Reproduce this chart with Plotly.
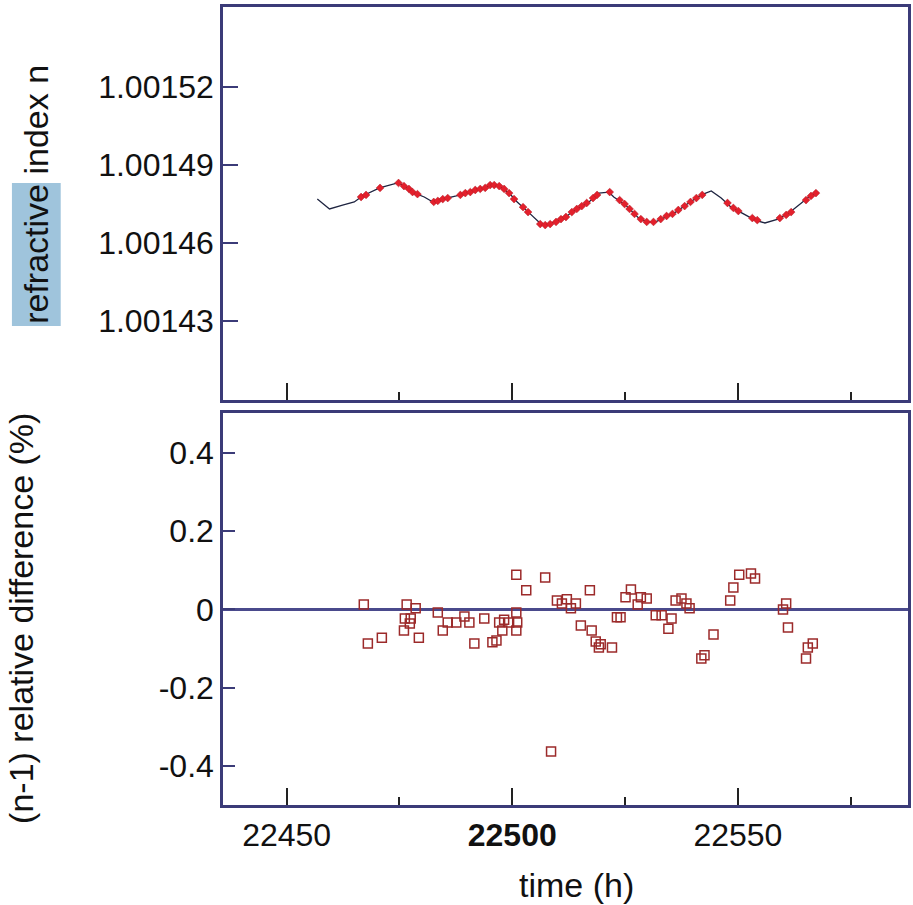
import plotly.graph_objects as go
from plotly.subplots import make_subplots

# ---- refractive index trace (continuous record) ----
line_t = [22456.8, 22459.5, 22462.4, 22465.0, 22466.8, 22470.6, 22474.6, 22475.7,
          22477.8, 22479.4, 22480.5, 22482.8, 22484.6, 22487.6, 22489.9, 22492.1,
          22493.8, 22495.4, 22497.1, 22499.3, 22501.1, 22503.8, 22506.6, 22508.8,
          22511.9, 22513.2, 22517.0, 22519.2, 22521.4, 22522.5, 22525.1, 22528.0,
          22529.8, 22531.8, 22534.0, 22536.2, 22539.1, 22541.9, 22544.1, 22546.3,
          22548.5, 22550.8, 22553.8, 22556.0, 22558.9, 22561.6, 22566.0, 22567.1]
line_n = [1.0014769, 1.0014731, 1.0014746, 1.0014758, 1.0014781, 1.0014812, 1.0014831, 1.0014823,
          1.0014796, 1.0014785, 1.0014777, 1.0014754, 1.0014769, 1.0014781, 1.0014792, 1.0014808,
          1.0014812, 1.0014823, 1.0014819, 1.0014792, 1.0014758, 1.0014715, 1.0014669, 1.0014677,
          1.0014700, 1.0014719, 1.0014758, 1.0014792, 1.0014796, 1.0014777, 1.0014746, 1.0014696,
          1.0014681, 1.0014681, 1.0014700, 1.0014719, 1.0014754, 1.0014785, 1.0014800, 1.0014773,
          1.0014738, 1.0014715, 1.0014688, 1.0014677, 1.0014692, 1.0014719, 1.0014781, 1.0014792]

# ---- interferometer measurements on the record ----
meas_t = [22466.5, 22467.6, 22470.7, 22474.8, 22476.0, 22477.1, 22477.9, 22479.0,
          22482.6, 22483.5, 22484.6, 22485.7, 22488.5, 22489.6, 22490.7, 22491.8,
          22492.9, 22494.0, 22495.1, 22496.0, 22497.1, 22498.2, 22499.3, 22500.4,
          22502.4, 22503.5, 22506.2, 22507.3, 22508.4, 22509.7, 22510.8, 22511.9,
          22513.2, 22514.3, 22515.4, 22516.5, 22517.9, 22518.8, 22521.6, 22523.8,
          22524.9, 22526.0, 22527.1, 22528.5, 22529.8, 22531.3, 22532.9, 22534.2,
          22535.5, 22536.8, 22538.2, 22539.5, 22540.8, 22542.1, 22547.7, 22549.0,
          22550.1, 22553.2, 22554.3, 22559.3, 22560.7, 22561.8, 22565.1, 22566.2,
          22567.3]
meas_n = [1.0014777, 1.0014785, 1.0014812, 1.0014831, 1.0014819, 1.0014808, 1.0014796, 1.0014788,
          1.0014758, 1.0014762, 1.0014769, 1.0014773, 1.0014785, 1.0014792, 1.0014796, 1.0014804,
          1.0014808, 1.0014812, 1.0014823, 1.0014823, 1.0014819, 1.0014808, 1.0014792, 1.0014769,
          1.0014738, 1.0014719, 1.0014673, 1.0014669, 1.0014673, 1.0014681, 1.0014692, 1.0014700,
          1.0014719, 1.0014731, 1.0014742, 1.0014754, 1.0014773, 1.0014785, 1.0014796, 1.0014765,
          1.0014750, 1.0014731, 1.0014712, 1.0014692, 1.0014681, 1.0014681, 1.0014692, 1.0014704,
          1.0014712, 1.0014727, 1.0014742, 1.0014758, 1.0014773, 1.0014785, 1.0014754, 1.0014735,
          1.0014723, 1.0014696, 1.0014688, 1.0014696, 1.0014708, 1.0014719, 1.0014765, 1.0014781,
          1.0014792]

# ---- relative difference of (n-1), percent ----
diff_t = [22467.1, 22468.0, 22471.1, 22476.6, 22478.6, 22476.2, 22477.5, 22477.3,
          22476.0, 22479.3, 22483.5, 22484.6, 22485.7, 22487.6, 22489.4, 22490.5,
          22491.6, 22493.8, 22495.6, 22496.5, 22497.1, 22498.2, 22497.8, 22499.3,
          22500.9, 22500.9, 22501.1, 22500.9, 22503.1, 22507.3, 22508.6, 22509.9,
          22511.0, 22512.1, 22513.0, 22514.1, 22515.2, 22517.2, 22517.6, 22518.5,
          22519.2, 22519.6, 22522.1, 22523.2, 22524.0, 22525.1, 22526.3, 22527.8,
          22528.5, 22529.8, 22531.8, 22533.1, 22534.6, 22535.3, 22536.2, 22537.5,
          22538.6, 22539.3, 22541.9, 22542.6, 22544.6, 22548.3, 22549.0, 22550.3,
          22552.9, 22553.8, 22560.0, 22560.7, 22561.1, 22565.1, 22565.5, 22566.6]
diff_v = [0.013, -0.087, -0.072, 0.013, 0.003, -0.023, -0.023, -0.036,
          -0.054, -0.072, -0.008, -0.054, -0.033, -0.033, -0.018, -0.033,
          -0.087, -0.023, -0.084, -0.079, -0.033, -0.026, -0.054, -0.033,
          -0.008, -0.054, -0.033, 0.089, 0.049, 0.082, -0.363, 0.023,
          0.015, 0.026, 0.003, 0.015, -0.041, 0.049, -0.054, -0.082,
          -0.097, -0.089, -0.097, -0.020, -0.020, 0.031, 0.051, 0.013,
          0.031, 0.028, -0.015, -0.015, -0.049, -0.023, 0.023, 0.028,
          0.015, 0.003, -0.125, -0.117, -0.064, 0.023, 0.056, 0.089,
          0.092, 0.079, 0.000, 0.015, -0.046, -0.125, -0.097, -0.087]

n_ticks = [1.00143, 1.00146, 1.00149, 1.00152]
n_ticktext = ["1.00143", "1.00146", "1.00149", "1.00152"]
d_ticks = [-0.4, -0.2, 0.0, 0.2, 0.4]
d_ticktext = ["-0.4", "-0.2", "0", "0.2", "0.4"]
t_ticks = [22450, 22500, 22550]
t_ticktext = ["22450", "<b>22500</b>", "22550"]

FRAME = "#3b3b78"
FONT = "Liberation Sans, Arial, sans-serif"
W, H = 913, 905
ML, MR, MT, MB = 223, 2, 7, 100
PW, PH = W - ML - MR, H - MT - MB

def px_x(px):
    return (px - ML) / PW

def px_y(py):
    return (H - MB - py) / PH

fig = make_subplots(rows=2, cols=1, shared_xaxes=False, vertical_spacing=0.0)

fig.add_trace(go.Scatter(x=line_t, y=line_n, mode="lines",
                         line=dict(color="#1e2440", width=1.3),
                         showlegend=False), row=1, col=1)
fig.add_trace(go.Scatter(x=meas_t, y=meas_n, mode="markers",
                         marker=dict(symbol="diamond", size=6, color="#e3202c",
                                     line=dict(color="#b01822", width=0.5)),
                         showlegend=False), row=1, col=1)
fig.add_trace(go.Scatter(x=diff_t, y=diff_v, mode="markers",
                         marker=dict(symbol="square-open", size=9, color="#9c2a2a",
                                     line=dict(width=1.5)),
                         showlegend=False), row=2, col=1)

x_range = [22435.9, 22587.7]
common_x = dict(range=x_range, showline=True, linecolor=FRAME, linewidth=2.5, mirror=True,
                ticks="inside", ticklen=17, tickwidth=1.5, tickcolor="#222",
                tickvals=t_ticks, showgrid=False, zeroline=False,
                minor=dict(tickvals=[22475, 22525, 22575], ticks="inside", ticklen=8,
                           tickwidth=1.5, tickcolor="#222", showgrid=False))

fig.update_layout(
    width=W, height=H,
    margin=dict(l=ML, r=MR, t=MT, b=MB),
    paper_bgcolor="white", plot_bgcolor="white",
    font=dict(family=FONT, size=32, color="#111"),
    xaxis=dict(domain=[0, 1], showticklabels=False, **common_x),
    xaxis2=dict(domain=[0, 1], showticklabels=True, ticktext=t_ticktext,
                tickfont=dict(size=32), **common_x),
    yaxis=dict(domain=[px_y(400), 1], range=[1.0013996, 1.0015508],
               tickvals=n_ticks, ticktext=n_ticktext, ticks="inside", ticklen=15,
               tickwidth=1.5, tickcolor=FRAME, showline=True, linecolor=FRAME,
               linewidth=2.5, mirror=True, showgrid=False, zeroline=False,
               tickfont=dict(size=32)),
    yaxis2=dict(domain=[0, px_y(413)], range=[-0.4996, 0.502],
                tickvals=d_ticks, ticktext=d_ticktext, ticks="inside", ticklen=12,
                tickwidth=1.5, tickcolor=FRAME, showline=True, linecolor=FRAME,
                linewidth=2.5, mirror=True, showgrid=False,
                zeroline=True, zerolinecolor="#4a4a8c", zerolinewidth=3,
                tickfont=dict(size=32)),
)

# highlight behind the word "refractive"
fig.add_shape(type="rect", xref="paper", yref="paper",
              x0=px_x(11), x1=px_x(60), y0=px_y(326), y1=px_y(183),
              fillcolor="#9fc4dc", line=dict(width=0), layer="below")

fig.add_annotation(text="refractive index n", xref="paper", yref="paper",
                   x=px_x(35), y=px_y(194), textangle=-90, showarrow=False,
                   xanchor="center", yanchor="middle",
                   font=dict(family=FONT, size=34, color="#111"))
fig.add_annotation(text="(n-1) relative difference (%)", xref="paper", yref="paper",
                   x=px_x(20), y=px_y(618), textangle=-90, showarrow=False,
                   xanchor="center", yanchor="middle",
                   font=dict(family=FONT, size=34, color="#111"))
fig.add_annotation(text="time (h)", xref="paper", yref="paper",
                   x=px_x(578), y=px_y(885), showarrow=False,
                   xanchor="center", yanchor="middle",
                   font=dict(family=FONT, size=34, color="#111"))

fig.write_html("out.html")
